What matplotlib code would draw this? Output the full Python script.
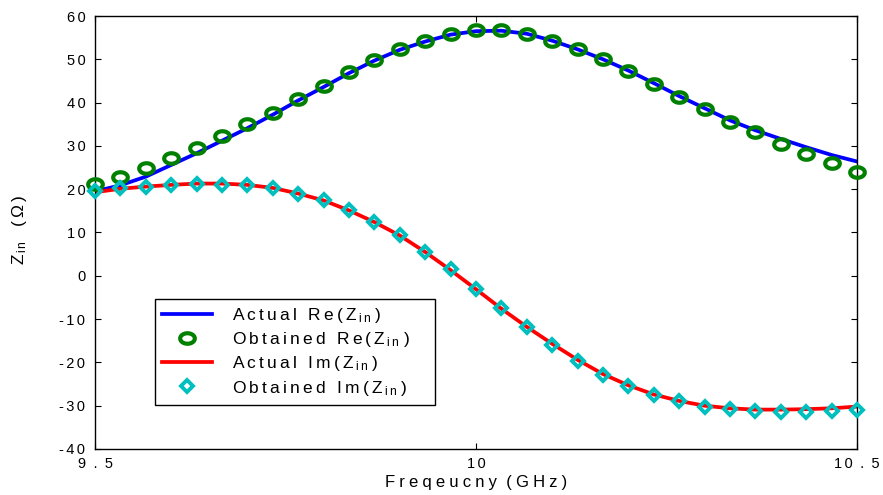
import numpy as np
import matplotlib
matplotlib.use("Agg")
import matplotlib.pyplot as plt
from matplotlib.path import Path
from matplotlib.lines import Line2D

plt.rcParams["font.family"] = ["Liberation Sans", "DejaVu Sans"]
plt.rcParams["mathtext.fontset"] = "custom"
plt.rcParams["mathtext.rm"] = "Liberation Sans"
plt.rcParams["mathtext.it"] = "Liberation Sans:italic"
plt.rcParams["mathtext.bf"] = "Liberation Sans:bold"

# ---- data -------------------------------------------------------------
freq = [9.5, 9.5333, 9.5667, 9.6, 9.6333, 9.6667, 9.7, 9.7333, 9.7667, 9.8,
        9.8333, 9.8667, 9.9, 9.9333, 9.9667, 10.0, 10.0333, 10.0667, 10.1,
        10.1333, 10.1667, 10.2, 10.2333, 10.2667, 10.3, 10.3333, 10.3667,
        10.4, 10.4333, 10.4667, 10.5]

re_actual = [19.5, 20.9, 22.9, 25.6, 28.3, 31.2, 34.1, 37.2, 40.5, 43.6,
             46.8, 49.7, 52.2, 54.1, 55.7, 56.5, 56.6, 55.9, 54.3, 52.3,
             50.0, 47.4, 44.5, 41.5, 38.7, 35.9, 33.6, 31.6, 29.7, 27.9, 26.4]

re_obtained = [21.2, 22.9, 25.0, 27.1, 29.6, 32.2, 35.0, 37.7, 40.9, 43.9,
               47.0, 49.9, 52.4, 54.3, 55.9, 56.7, 56.7, 55.9, 54.3, 52.4,
               50.0, 47.3, 44.3, 41.3, 38.6, 35.6, 33.1, 30.5, 28.2, 26.0, 24.0]

im_actual = [19.3, 20.1, 20.6, 21.0, 21.3, 21.3, 21.0, 20.3, 19.0, 17.4,
             15.1, 12.4, 9.3, 5.5, 1.3, -3.1, -7.6, -11.8, -15.7, -19.4,
             -22.7, -25.3, -27.4, -28.9, -30.0, -30.6, -30.9, -30.9, -30.8,
             -30.6, -30.2]

im_obtained = [19.5, 20.2, 20.6, 21.0, 21.2, 21.0, 20.9, 20.2, 18.9, 17.5,
               15.2, 12.5, 9.4, 5.5, 1.5, -3.0, -7.5, -11.9, -15.9, -19.6,
               -22.9, -25.4, -27.5, -29.0, -30.2, -30.8, -31.3, -31.5, -31.5,
               -31.2, -30.9]

xticks = [9.5, 10.0, 10.5]
xtick_labels = ["9.5", "10", "10.5"]
yticks = [-40, -30, -20, -10, 0, 10, 20, 30, 40, 50, 60]
ytick_labels = ["-40", "-30", "-20", "-10", "0", "10", "20", "30", "40", "50", "60"]

# legend entries: (text before subscript, subscript, text after)
legend_parts = [("Actual Re(Z", "in", ")"),
                ("Obtained Re(Z", "in", ")"),
                ("Actual Im(Z", "in", ")"),
                ("Obtained Im(Z", "in", ")")]

# ---- helpers for letter-spaced text ----------------------------------
GAP = "\u2006"      # six-per-em space between letters
WIDE = "\u2005"     # four-per-em space for the axis title


def tracked(s, gap=GAP):
    out = []
    for i, ch in enumerate(s):
        if i:
            out.append("\u2002" if "." in (ch, s[i - 1]) else gap)
        out.append(ch)
    return "".join(out)


def tracked_math(pre, sub, post):
    def spell(s):
        return r"\:".join(r"\ " if ch == " " else ch for ch in s)
    return (r"$\mathrm{" + spell(pre) + r"_{\:" + spell(sub) + r"}\;"
            + spell(post) + r"}$")


# flattened ring used for the "obtained Re" markers
theta = np.linspace(0, 2 * np.pi, 73)
ring = Path(np.column_stack([np.cos(theta), 0.72 * np.sin(theta)]), closed=True)

BLUE = "#0000ff"
RED = "#ff0000"
GREEN = "#008000"
CYAN = "#00bfbf"

ring_style = dict(ls="none", marker=ring, ms=10.5, mew=3.0, mec=GREEN, mfc="none")
diamond_style = dict(ls="none", marker="D", ms=6.6, mew=2.8, mec=CYAN, mfc="none")

# ---- figure -----------------------------------------------------------
fig = plt.figure(figsize=(8.83, 4.95), dpi=100)
ax = fig.add_axes([95 / 883, 46 / 495, 762 / 883, 433 / 495])

ax.plot(freq, re_actual, color=BLUE, lw=2.7, zorder=2)
ax.plot(freq, im_actual, color=RED, lw=2.7, zorder=2)
ax.plot(freq, re_obtained, zorder=3, clip_on=False, **ring_style)
ax.plot(freq, im_obtained, zorder=3, clip_on=False, **diamond_style)

ax.set_xlim(9.5, 10.5)
ax.set_ylim(-40, 60)
ax.set_xticks(xticks, [tracked(t) for t in xtick_labels])
ax.set_yticks(yticks, [tracked(t) for t in ytick_labels])
ax.tick_params(direction="in", length=4, width=0.8, top=True, right=True,
               labelsize=10.5, colors="black")
ax.tick_params(axis="y", pad=7)
ax.tick_params(axis="x", pad=6)
for sp in ax.spines.values():
    sp.set_linewidth(1.0)

ax.set_xlabel(tracked("Freqeucny", WIDE) + "  " + tracked("(GHz)", WIDE),
              fontsize=12)
ax.xaxis.set_label_coords(0.5, -0.06)
ylab = r"$\mathrm{Z_{\,i\,n}}$" + "   " + tracked("(Ω)")
ax.set_ylabel(ylab, fontsize=12.5)
ax.yaxis.set_label_coords(-0.086, 0.505)

handles = [
    Line2D([], [], color=BLUE, lw=2.7),
    Line2D([], [], **ring_style),
    Line2D([], [], color=RED, lw=2.7),
    Line2D([], [], **diamond_style),
]
labels = [tracked_math(*p) for p in legend_parts]
# legend box stretched to a fixed width inside the axes
leg = ax.legend(handles, labels, loc="upper left", mode="expand",
                bbox_to_anchor=(60 / 762, 46 / 433, 280 / 762, 104 / 433),
                fontsize=12.5, frameon=True, fancybox=False, framealpha=1,
                edgecolor="black", handlelength=2.9, handletextpad=1.15,
                labelspacing=0.3, borderpad=0.4, borderaxespad=0, numpoints=1)
leg.get_frame().set_linewidth(1.0)

fig.savefig("out.png", dpi=100)
